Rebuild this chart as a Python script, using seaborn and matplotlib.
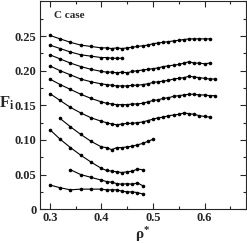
import numpy as np
import pandas as pd
import matplotlib
matplotlib.use('Agg')
import matplotlib.pyplot as plt
import seaborn as sns
from matplotlib.ticker import MultipleLocator, FixedLocator, FuncFormatter

# rho* grid: 0.02 steps up to 0.40, then 0.01 steps
rho_a = [0.30, 0.32, 0.34, 0.36, 0.38, 0.40]
rho_b = [0.41, 0.42, 0.43, 0.44, 0.45, 0.46, 0.47, 0.48, 0.49, 0.50, 0.51,
         0.52, 0.53, 0.54, 0.55, 0.56, 0.57, 0.58, 0.59, 0.60, 0.61, 0.62]

f1 = [0.251, 0.246, 0.241, 0.237, 0.235, 0.233, 0.233, 0.232, 0.233, 0.232, 0.233,
      0.234, 0.235, 0.236, 0.237, 0.239, 0.240, 0.241, 0.242, 0.243, 0.244, 0.245,
      0.246, 0.246, 0.246, 0.246, 0.246]
f2 = [0.237, 0.232, 0.227, 0.223, 0.221, 0.219, 0.219, 0.218, 0.218, 0.218]
f3 = [0.223, 0.217, 0.211, 0.206, 0.202, 0.199, 0.198, 0.198, 0.197, 0.198, 0.197,
      0.199, 0.200, 0.201, 0.202, 0.203, 0.204, 0.206, 0.207, 0.208, 0.209, 0.211,
      0.213, 0.211, 0.211, 0.210, 0.211]
f4 = [0.207, 0.200, 0.194, 0.188, 0.184, 0.181, 0.180, 0.179, 0.178, 0.178, 0.178,
      0.179, 0.179, 0.180, 0.181, 0.183, 0.184, 0.185, 0.186, 0.188, 0.189, 0.190,
      0.192, 0.191, 0.190, 0.189, 0.188, 0.188]
f5 = [0.188, 0.180, 0.173, 0.166, 0.160, 0.155, 0.153, 0.152, 0.151, 0.151, 0.151,
      0.152, 0.152, 0.153, 0.155, 0.157, 0.158, 0.160, 0.161, 0.163, 0.164, 0.165,
      0.166, 0.166, 0.165, 0.165, 0.164, 0.164]
f6 = [0.167, 0.157, 0.147, 0.139, 0.132, 0.127, 0.125, 0.123, 0.122, 0.123, 0.124,
      0.124, 0.125, 0.126, 0.128, 0.130, 0.132, 0.133, 0.135, 0.136, 0.137, 0.139,
      0.138, 0.137, 0.135, 0.134, 0.133]
f7 = [0.131, 0.119, 0.108, 0.098, 0.090, 0.089, 0.086, 0.089, 0.089, 0.090,
      0.091, 0.093, 0.095, 0.098, 0.101]
f8 = [0.115, 0.101, 0.089, 0.078, 0.068, 0.059, 0.056, 0.055, 0.054, 0.053, 0.054,
      0.055, 0.058, 0.057]
f9 = [0.057, 0.050, 0.046, 0.042, 0.040, 0.039, 0.037, 0.036, 0.037, 0.036,
      0.038, 0.034]
f10 = [0.035, 0.031, 0.028, 0.029, 0.029, 0.029, 0.028, 0.028, 0.028, 0.026, 0.025,
       0.025, 0.024, 0.022]

curves = {
    1: (rho_a + rho_b, f1),
    2: (rho_a + rho_b, f2),
    3: (rho_a + rho_b, f3),
    4: (rho_a + rho_b, f4),
    5: (rho_a + rho_b, f5),
    6: (rho_a + rho_b, f6),
    7: (rho_a[1:] + rho_b, f7),
    8: (rho_a + rho_b, f8),
    9: (rho_a[2:] + rho_b, f9),
    10: (rho_a + rho_b, f10),
}

y_ticks = [0, 0.05, 0.10, 0.15, 0.20, 0.25]
x_ticks = [0.3, 0.4, 0.5, 0.6]

rows = []
for k, (xs, ys) in curves.items():
    for x, y in zip(xs, ys):
        rows.append((k, x, y))
df = pd.DataFrame(rows, columns=['curve', 'rho', 'F'])

sns.set_style('ticks')
plt.rcParams['font.family'] = ['Liberation Serif', 'DejaVu Serif']
plt.rcParams['font.weight'] = 'bold'
plt.rcParams['mathtext.fontset'] = 'custom'
plt.rcParams['mathtext.rm'] = 'Liberation Serif'
plt.rcParams['mathtext.it'] = 'Liberation Serif:italic'
plt.rcParams['mathtext.bf'] = 'Liberation Serif:bold'

fig = plt.figure(figsize=(2.47, 2.43), dpi=100)
ax = fig.add_axes([0.16, 0.139, 0.835, 0.855])

sns.lineplot(data=df, x='rho', y='F', units='curve', estimator=None,
             color='black', marker='o', markersize=2.6, markeredgewidth=0,
             linewidth=0.8, ax=ax, legend=False)

ax.set_xlim(0.28, 0.68)
ax.set_ylim(0, 0.3)
ax.xaxis.set_major_locator(FixedLocator(x_ticks))
ax.xaxis.set_minor_locator(MultipleLocator(0.05))
ax.yaxis.set_major_locator(FixedLocator(y_ticks))
ax.yaxis.set_minor_locator(MultipleLocator(0.025))
ax.yaxis.set_major_formatter(FuncFormatter(lambda v, p: '0' if abs(v) < 1e-9 else f'{v:.2f}'))
ax.xaxis.set_major_formatter(FuncFormatter(lambda v, p: f'{v:.1f}'))
ax.tick_params(which='both', direction='in', top=True, right=True, width=0.8)
ax.tick_params(which='major', length=4, labelsize=9, pad=2)
ax.tick_params(which='minor', length=2.5)
for lab in ax.get_xticklabels() + ax.get_yticklabels():
    lab.set_fontweight('bold')
for s in ax.spines.values():
    s.set_linewidth(0.8)

ax.set_xlabel(r'$\mathrm{\rho}^{*}$', fontsize=11, labelpad=1)
ax.set_ylabel(r'$\mathbf{F}_{\mathbf{i}}$', fontsize=12, rotation=0, labelpad=2)
ax.yaxis.set_label_coords(-0.16, 0.47)
ax.text(0.07, 0.955, 'C case', transform=ax.transAxes, fontsize=8,
        fontweight='bold', va='top', ha='left')

fig.savefig('out.png', dpi=100)
